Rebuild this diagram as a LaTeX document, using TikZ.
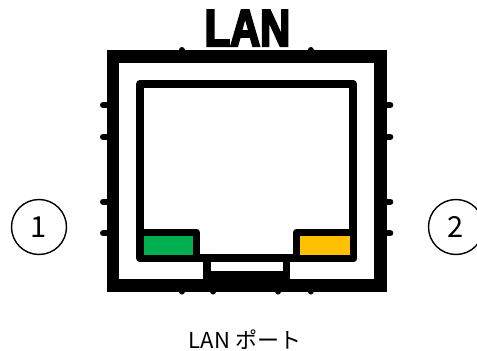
\documentclass[tikz,border=0pt]{standalone}
\usepackage{fontspec}
\newfontfamily\lanfont[FakeBold=4,FakeStretch=0.8]{Liberation Sans}
\newfontfamily\jpfont{Noto Sans CJK JP}
\definecolor{ledgreen}{HTML}{00B050}
\definecolor{ledyellow}{HTML}{FFC000}
\tikzset{
  frame/.style={line width=12.7pt},
  socket/.style={line width=8pt, line join=round},
  ledbox/.style={line width=7pt, line join=round},
  pin/.style={line width=6pt, line cap=round},
  num/.style={circle, draw, line width=1.4pt, minimum size=55pt, inner sep=0pt,
    font=\jpfont\fontsize{29}{29}\selectfont}
}
\begin{document}
\begin{tikzpicture}[x=1pt,y=-1pt]
  \useasboundingbox (0,0) rectangle (477,351);
  % housing
  \draw[frame] (113,56.3) rectangle (380.3,285.3);
  \foreach \y in {105,136.7,201.7,233.3} {
    \draw[pin] (108,\y) -- (103,\y);
    \draw[pin] (385,\y) -- (390.3,\y);
  }
  \foreach \x in {181.7,310.5} {
    \draw[pin] (\x,54) -- (\x,50);
    \draw[pin] (\x,288) -- (\x,291.5);
  }
  \foreach \x in {213.3,278.3}
    \draw[pin] (\x,288) -- (\x,291.5);
  % latch
  \fill (203.3,258) rectangle (290,292);
  \fill[white] (210.7,262) rectangle (283.3,270.7);
  % socket and leds
  \draw[socket] (140,83.8) rectangle (353.3,258.3);
  \filldraw[ledbox, fill=ledgreen] (140,232) rectangle (196.3,258.3);
  \filldraw[ledbox, fill=ledyellow] (296.5,232) rectangle (353.3,258.3);
  % labels
  \node[anchor=base, inner sep=0pt] (lan) at (247.5,46)
    {\lanfont\bfseries\fontsize{52}{52}\selectfont LAN};
  \node[num] (one) at (39,227) {1};
  \node[num] (two) at (456,227) {2};
  \node[anchor=base, inner sep=0pt] (port) at (245,348)
    {\jpfont\fontsize{22}{22}\selectfont LAN ポート};
\end{tikzpicture}
\end{document}
